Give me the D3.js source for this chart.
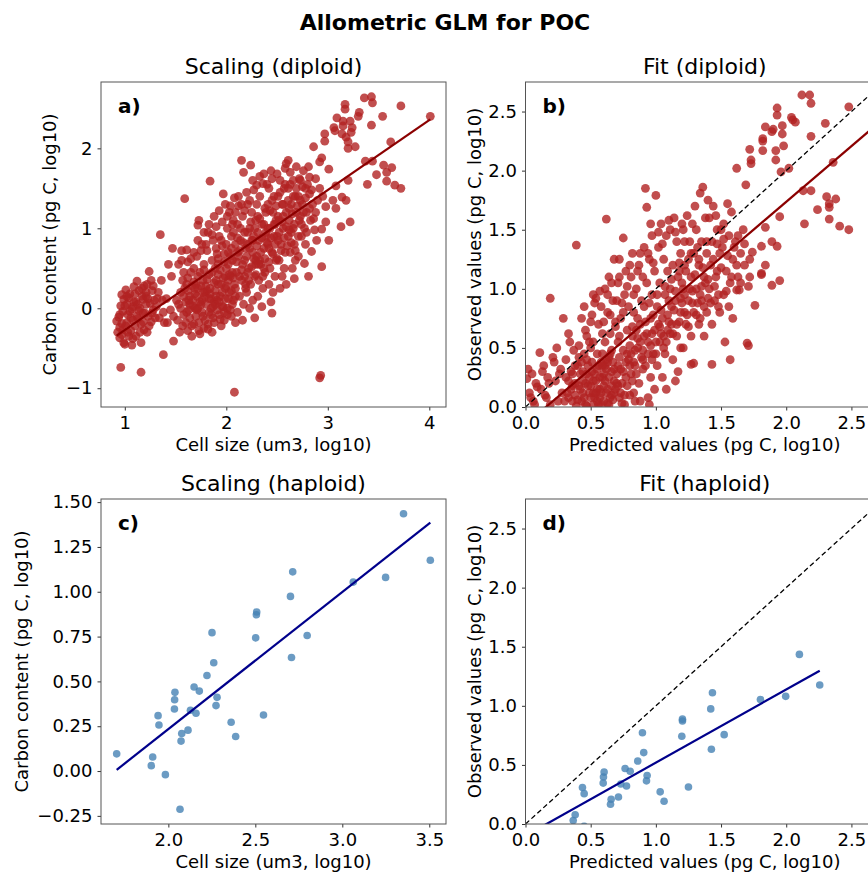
<!DOCTYPE html>
<html>
<head>
<meta charset="utf-8">
<script src="https://cdn.jsdelivr.net/npm/d3@7"></script>
<style>
  body { margin: 0; background: #fff; }
  svg text { font-family: 'DejaVu Sans', sans-serif; fill: #000; }
</style>
</head>
<body>
<div id="chart"></div>
<script>
// ---- data ----

// a) diploid: [cell size (log10 um3), carbon content (log10 pg C)]
const diploidScaling = [
  [0.93,-0.30],[0.95,-0.24],[0.97,-0.19],[0.94,-0.11],[0.98,-0.04],[0.96,0.03],[0.99,0.11],[0.95,-0.37],[0.99,-0.43],[0.92,-0.16],[0.97,0.17],[0.96,-0.74],
  [1.01,0.23],[1.04,0.13],[1.02,0.05],[1.07,-0.01],[1.03,-0.08],[1.08,-0.15],[1.01,-0.22],[1.06,-0.28],[1.04,-0.35],[1.07,-0.46],[1.09,0.27],[1.05,-0.04],[1.09,0.08],[1.02,-0.18],[1.00,-0.45],
  [1.12,0.34],[1.14,0.22],[1.17,0.15],[1.11,0.08],[1.15,0.00],[1.18,-0.06],[1.13,-0.13],[1.16,-0.20],[1.19,-0.27],[1.16,-0.43],[1.19,0.28],[1.12,-0.10],[1.18,0.11],[1.16,-0.80],
  [1.24,0.46],[1.22,0.30],[1.27,0.22],[1.21,0.15],[1.25,0.06],[1.28,-0.02],[1.23,-0.10],[1.26,-0.17],[1.22,-0.30],[1.29,0.10],[1.27,-0.06],[1.21,0.20],
  [1.35,0.92],[1.33,0.20],[1.37,0.10],[1.31,0.02],[1.38,-0.05],[1.34,-0.12],[1.39,-0.18],[1.36,0.35],[1.38,-0.58],
  [1.43,0.55],[1.46,0.40],[1.41,0.12],[1.45,-0.02],[1.48,-0.10],[1.42,-0.18],[1.48,-0.41],[1.47,0.75],
  [1.59,1.37],[1.56,0.72],[1.53,0.55],[1.58,0.45],[1.51,0.10],[1.55,0.00],[1.58,-0.08],[1.52,-0.15],[1.57,-0.22],[1.54,-0.30],[1.59,0.25],[1.53,0.05],[1.56,0.60],
  [1.61,0.73],[1.65,0.62],[1.68,0.50],[1.62,0.38],[1.66,0.28],[1.69,0.18],[1.63,0.10],[1.67,0.03],[1.61,-0.05],[1.64,-0.12],[1.68,-0.20],[1.62,-0.28],[1.66,-0.35],[1.69,0.00],[1.64,0.15],[1.60,0.08],
  [1.73,1.10],[1.72,1.04],[1.76,0.80],[1.71,0.65],[1.78,0.55],[1.74,0.45],[1.77,0.35],[1.72,0.25],[1.79,0.15],[1.75,0.05],[1.71,-0.02],[1.77,-0.10],[1.73,-0.18],[1.78,-0.25],[1.74,-0.32],[1.70,0.30],[1.79,0.20],[1.76,0.10],[1.72,0.00],
  [1.84,1.59],[1.82,0.95],[1.87,0.85],[1.81,0.72],[1.86,0.60],[1.89,0.50],[1.83,0.42],[1.88,0.32],[1.81,0.22],[1.85,0.12],[1.89,0.05],[1.83,-0.05],[1.87,-0.12],[1.82,-0.20],[1.86,-0.30],[1.80,0.28],[1.84,0.18],[1.88,0.08],[1.85,0.00],
  [1.97,1.43],[1.93,0.90],[1.96,0.78],[1.91,0.68],[1.98,0.58],[1.94,0.48],[1.99,0.40],[1.92,0.30],[1.96,0.20],[1.91,0.10],[1.97,0.02],[1.93,-0.08],[1.98,-0.15],[1.95,-0.22],[1.90,0.35],[1.99,0.25],[1.94,0.15],[1.92,0.55],
  [2.08,1.38],[2.03,1.20],[2.07,1.10],[2.01,1.00],[2.05,0.90],[2.09,0.80],[2.02,0.70],[2.06,0.60],[2.00,0.50],[2.04,0.40],[2.08,0.30],[2.03,0.20],[2.07,0.10],[2.01,0.00],[2.05,-0.10],[2.09,-0.18],[2.06,0.45],[2.02,0.35],[2.09,0.25],[2.04,0.65],[2.08,-1.05],
  [2.15,1.85],[2.17,1.70],[2.12,1.28],[2.16,1.15],[2.11,1.05],[2.18,0.95],[2.14,0.85],[2.19,0.75],[2.12,0.65],[2.16,0.55],[2.10,0.45],[2.15,0.35],[2.19,0.25],[2.13,0.15],[2.17,0.05],[2.11,-0.05],[2.16,-0.15],[2.18,0.60],[2.13,0.40],[2.19,0.30],[2.11,0.70],
  [2.24,1.79],[2.27,1.48],[2.21,1.30],[2.25,1.20],[2.29,1.10],[2.23,1.00],[2.27,0.90],[2.21,0.80],[2.26,0.70],[2.29,0.60],[2.22,0.50],[2.28,0.40],[2.24,0.30],[2.20,0.20],[2.26,0.10],[2.23,0.00],[2.28,-0.12],[2.25,0.85],[2.29,0.55],[2.21,0.45],
  [2.37,1.68],[2.36,1.56],[2.30,1.54],[2.33,1.40],[2.38,1.25],[2.31,1.15],[2.35,1.05],[2.39,0.95],[2.32,0.85],[2.37,0.75],[2.30,0.65],[2.34,0.55],[2.38,0.45],[2.32,0.35],[2.36,0.25],[2.31,0.15],[2.35,0.02],[2.39,0.90],[2.33,0.60],[2.37,0.50],
  [2.45,1.62],[2.42,1.50],[2.47,1.40],[2.41,1.30],[2.46,1.20],[2.49,1.10],[2.43,1.00],[2.47,0.90],[2.41,0.80],[2.45,0.70],[2.49,0.60],[2.43,0.50],[2.48,0.40],[2.42,0.30],[2.46,0.20],[2.44,0.08],[2.45,-0.06],[2.48,1.05],[2.42,0.75],
  [2.61,1.85],[2.59,1.81],[2.58,1.75],[2.53,1.60],[2.57,1.50],[2.51,1.40],[2.55,1.30],[2.59,1.20],[2.52,1.10],[2.56,1.00],[2.50,0.90],[2.54,0.80],[2.58,0.70],[2.52,0.60],[2.57,0.50],[2.55,0.40],[2.59,0.30],[2.53,0.25],[2.56,1.15],[2.51,0.85],
  [2.69,1.77],[2.63,1.70],[2.66,1.60],[2.61,1.50],[2.68,1.40],[2.64,1.30],[2.69,1.20],[2.62,1.10],[2.66,1.00],[2.61,0.90],[2.67,0.80],[2.63,0.70],[2.68,0.60],[2.65,0.50],[2.67,0.37],[2.62,1.25],[2.64,0.95],
  [2.76,1.72],[2.73,1.60],[2.78,1.50],[2.71,1.40],[2.75,1.30],[2.79,1.20],[2.72,1.10],[2.77,1.00],[2.74,0.90],[2.78,0.80],[2.71,0.65],[2.77,0.56],[2.73,1.15],
  [2.81,1.77],[2.82,1.64],[2.82,1.43],[2.85,1.30],[2.88,1.20],[2.83,1.10],[2.87,0.98],[2.89,0.85],[2.84,0.71],[2.81,0.40],[2.86,2.02],
  [2.97,2.18],[2.97,2.09],[2.94,1.88],[2.92,1.83],[2.92,1.50],[2.95,1.40],[2.98,1.27],[2.98,1.08],[2.94,0.99],[2.94,0.52],[2.92,-0.87],[2.93,-0.84],
  [3.09,2.38],[3.06,2.26],[3.07,2.22],[3.01,1.74],[3.08,1.53],[3.05,1.35],[3.08,1.25],[3.01,0.85],
  [3.17,2.55],[3.17,2.49],[3.15,2.34],[3.15,2.28],[3.14,2.18],[3.18,2.14],[3.20,2.00],[3.20,1.60],[3.14,1.39],[3.18,1.35],[3.13,1.02],
  [3.31,2.45],[3.24,2.26],[3.23,2.20],[3.20,2.08],[3.27,2.02],[3.22,1.08],[3.22,2.34],
  [3.36,2.63],[3.37,1.84],[3.39,1.55],[3.30,2.40],
  [3.43,2.645],[3.44,2.57],[3.43,2.29],[3.44,1.84],[3.48,1.67],
  [3.54,2.40],[3.55,1.79],[3.58,1.70],[3.58,1.59],
  [3.62,2.08],[3.63,1.76],[3.66,1.54],
  [3.72,2.53],[3.72,1.50],
  [4.01,2.40],
  // dense core, left cluster
  [0.95,-0.08],[0.98,-0.27],[1.00,0.03],[1.03,-0.30],[1.05,0.18],[1.06,-0.12],[1.08,0.02],[1.10,-0.22],[1.11,-0.35],[1.13,0.05],[1.14,-0.03],[1.15,-0.30],[1.17,0.25],
  [1.18,-0.17],[1.20,-0.06],[1.21,0.05],[1.23,0.12],[1.24,-0.22],[1.26,0.35],[1.28,0.28],[1.30,-0.12],[1.32,0.12],[1.02,0.15],[1.10,0.18],[0.97,-0.33],[1.08,-0.38],
  // dense core, lower-middle blob
  [1.55,0.20],[1.57,0.35],[1.60,-0.18],[1.62,0.22],[1.63,-0.02],[1.65,0.45],[1.66,-0.22],[1.67,0.10],[1.68,0.33],[1.70,-0.10],[1.71,0.15],[1.72,0.40],[1.73,-0.28],
  [1.74,0.08],[1.75,0.28],[1.76,-0.05],[1.77,0.20],[1.78,0.48],[1.79,-0.15],[1.80,0.05],[1.81,0.36],[1.82,-0.26],[1.83,0.12],[1.84,0.25],[1.85,-0.08],[1.86,0.45],
  [1.87,0.02],[1.88,-0.18],[1.89,0.22],[1.90,0.15],[1.91,-0.02],[1.92,0.42],[1.93,0.08],[1.94,-0.14],[1.95,0.30],[1.96,0.02],[1.97,0.38],[1.98,-0.05],[1.99,0.12],
  [2.00,0.28],[2.01,-0.08],[2.02,0.12],[2.03,0.42],[2.04,-0.02],[2.05,0.22],[2.06,0.05],[2.07,0.38],[2.09,0.15],[1.58,0.15],[1.61,0.30],[1.64,0.05],[1.69,0.25],
  // dense core, main band
  [1.90,0.75],[1.92,0.62],[1.95,0.85],[1.98,0.68],[2.00,0.80],[2.02,0.55],[2.05,0.75],[2.07,0.95],[2.10,0.58],[2.11,0.88],[2.13,0.72],[2.14,1.00],[2.15,0.48],
  [2.17,0.82],[2.18,0.40],[2.20,0.65],[2.21,0.95],[2.22,0.35],[2.23,0.75],[2.24,1.08],[2.25,0.52],[2.26,0.85],[2.27,0.62],[2.28,1.00],[2.29,0.42],[2.30,0.78],
  [2.31,0.95],[2.32,0.55],[2.33,1.12],[2.34,0.70],[2.35,0.88],[2.36,0.40],[2.37,1.05],[2.38,0.62],[2.39,1.20],[2.40,0.82],[2.41,1.00],[2.42,0.58],[2.43,1.22],
  [2.44,0.88],[2.45,1.35],[2.46,0.68],[2.47,1.05],[2.48,0.80],[2.49,1.28],[2.50,0.62],[2.51,1.15],[2.52,0.95],[2.53,1.45],[2.54,0.72],[2.55,1.08],[2.56,1.30],
  [2.57,0.88],[2.58,1.55],[2.59,1.02],[2.60,0.78],[2.61,1.35],[2.62,0.98],[2.63,1.55],[2.64,0.82],[2.65,1.18],[2.66,1.40],[2.67,1.05],[2.68,0.72],[2.69,1.50],
  [2.70,1.28],[2.71,0.90],[2.72,1.62],[2.73,1.35],[2.74,1.05],[2.75,1.52],[2.76,1.20],[2.78,1.38],[2.79,0.95],[2.80,1.55],[2.82,1.25],[2.84,1.48],[2.86,1.12],
  [2.88,1.62],[2.90,1.35],
  // upper side of the band
  [1.62,0.58],[1.68,0.70],[1.72,0.85],[1.75,0.72],[1.78,0.95],[1.80,0.80],[1.83,1.05],[1.86,0.92],[1.88,1.15],[1.90,1.02],[1.93,1.22],[1.96,1.08],[1.99,1.30],
  [2.01,1.15],[2.04,1.28],[2.06,1.05],[2.09,1.20],[2.12,1.40],[2.15,1.30],[2.18,1.22],[2.20,1.45],[2.23,1.35],[2.26,1.60],[2.30,1.30],[2.33,1.65],[2.40,1.55],
  [2.44,1.72],[2.50,1.68]
];

// b) diploid: [predicted, observed] (both log10 pg C)
const diploidFit = [
  [0.02,0.32],[0.05,0.28],[0.08,0.20],[0.03,0.12],[0.06,0.05],[0.09,0.17],[0.04,0.08],[0.07,0.02],[0.01,0.24],
  [0.19,0.92],[0.11,0.46],[0.14,0.35],[0.17,0.25],[0.12,0.15],[0.16,0.08],[0.19,0.02],[0.13,0.30],[0.18,0.20],[0.15,0.10],
  [0.29,0.75],[0.24,0.50],[0.21,0.42],[0.27,0.32],[0.23,0.22],[0.28,0.12],[0.25,0.05],[0.22,0.38],[0.26,0.28],
  [0.39,1.37],[0.34,0.55],[0.37,0.48],[0.31,0.40],[0.35,0.30],[0.38,0.20],[0.32,0.12],[0.36,0.05],[0.39,0.01],[0.33,0.62],[0.38,0.35],[0.31,0.25],[0.35,0.15],[0.33,0.08],[0.36,0.18],[0.40,0.06],
  [0.43,0.75],[0.47,0.60],[0.41,0.52],[0.45,0.45],[0.48,0.35],[0.42,0.28],[0.46,0.20],[0.49,0.12],[0.43,0.05],[0.47,0.01],[0.41,0.42],[0.44,0.30],[0.48,0.18],[0.45,0.08],[0.46,0.65],[0.49,0.55],[0.42,0.15],[0.44,0.22],[0.47,0.28],
  [0.57,0.98],[0.53,0.88],[0.51,0.78],[0.56,0.70],[0.59,0.62],[0.52,0.55],[0.55,0.45],[0.58,0.38],[0.51,0.30],[0.54,0.22],[0.57,0.15],[0.53,0.08],[0.58,0.02],[0.50,0.50],[0.56,0.35],[0.59,0.25],[0.52,0.12],[0.55,0.05],[0.54,0.92],[0.50,0.18],[0.53,0.28],[0.57,0.08],[0.52,0.02],[0.55,0.15],[0.59,0.45],
  [0.62,1.59],[0.68,1.25],[0.64,1.10],[0.61,1.00],[0.67,0.90],[0.63,0.80],[0.69,0.72],[0.65,0.62],[0.61,0.55],[0.66,0.48],[0.62,0.40],[0.68,0.32],[0.64,0.25],[0.60,0.18],[0.66,0.10],[0.63,0.03],[0.69,0.68],[0.65,0.45],[0.61,0.35],[0.68,0.22],[0.67,0.06],[0.60,0.28],[0.62,0.12],[0.64,0.02],[0.66,0.18],[0.63,0.38],[0.69,0.15],
  [0.75,1.43],[0.72,1.25],[0.77,1.15],[0.71,1.05],[0.76,0.95],[0.79,0.85],[0.73,0.75],[0.78,0.65],[0.71,0.55],[0.75,0.48],[0.79,0.40],[0.73,0.32],[0.77,0.25],[0.71,0.18],[0.76,0.10],[0.74,0.03],[0.72,0.60],[0.78,0.45],[0.74,0.88],[0.70,0.28],[0.72,0.08],[0.74,0.20],
  [0.82,1.30],[0.87,1.20],[0.81,1.10],[0.85,1.00],[0.89,0.90],[0.83,0.80],[0.88,0.70],[0.82,0.60],[0.86,0.50],[0.89,0.42],[0.84,0.35],[0.81,0.28],[0.87,0.20],[0.83,0.12],[0.88,0.05],[0.85,0.65],[0.81,0.45],[0.80,0.52],[0.83,0.38],[0.86,0.58],[0.85,0.28],
  [0.92,1.85],[0.93,1.69],[0.97,1.45],[0.91,1.35],[0.95,1.25],[0.99,1.15],[0.93,1.05],[0.97,0.95],[0.91,0.85],[0.96,0.75],[0.99,0.65],[0.94,0.55],[0.98,0.45],[0.92,0.35],[0.96,0.25],[0.99,0.15],[0.94,0.08],[0.91,0.60],[0.97,0.40],[0.95,0.02],[0.90,0.48],[0.93,0.62],[0.96,0.52],[0.90,0.32],
  [1.00,1.79],[1.04,1.55],[1.08,1.45],[1.02,1.35],[1.06,1.25],[1.09,1.15],[1.03,1.05],[1.07,0.95],[1.01,0.85],[1.05,0.75],[1.09,0.65],[1.03,0.55],[1.07,0.45],[1.01,0.35],[1.05,0.25],[1.08,0.15],[1.02,0.70],[1.06,0.50],[1.00,0.45],[1.04,0.62],[1.08,0.55],
  [1.14,1.60],[1.11,1.50],[1.16,1.40],[1.19,1.30],[1.13,1.20],[1.17,1.10],[1.11,1.00],[1.15,0.90],[1.19,0.80],[1.12,0.70],[1.16,0.60],[1.19,0.50],[1.13,0.40],[1.17,0.30],[1.15,0.22],[1.18,1.15],[1.12,0.85],[1.10,0.72],[1.13,0.62],[1.18,0.72],
  [1.24,1.62],[1.21,1.50],[1.26,1.40],[1.29,1.30],[1.22,1.20],[1.27,1.10],[1.21,1.00],[1.25,0.90],[1.29,0.80],[1.23,0.70],[1.27,0.60],[1.21,0.50],[1.27,0.36],[1.29,0.37],[1.25,1.25],[1.22,0.95],[1.20,0.88],[1.24,0.78],[1.28,0.98],
  [1.36,1.86],[1.34,1.81],[1.38,1.60],[1.31,1.50],[1.35,1.40],[1.39,1.30],[1.33,1.20],[1.37,1.10],[1.31,1.00],[1.35,0.90],[1.39,0.80],[1.33,0.70],[1.37,0.60],[1.32,1.35],[1.38,1.05],[1.34,0.75],[1.32,0.88],[1.35,1.02],
  [1.44,1.70],[1.41,1.60],[1.47,1.50],[1.43,1.40],[1.49,1.30],[1.42,1.20],[1.46,1.10],[1.41,1.00],[1.45,0.90],[1.49,0.80],[1.43,0.70],[1.43,0.36],[1.47,1.15],[1.48,0.95],[1.40,0.92],
  [1.55,1.72],[1.58,1.65],[1.52,1.55],[1.56,1.45],[1.51,1.35],[1.59,1.25],[1.54,1.15],[1.57,1.05],[1.52,0.95],[1.56,0.85],[1.59,0.75],[1.53,0.55],[1.57,0.40],
  [1.62,2.02],[1.69,1.88],[1.67,1.50],[1.61,1.40],[1.65,1.30],[1.68,1.20],[1.63,1.10],[1.62,0.99],[1.64,0.99],[1.63,1.45],
  [1.72,2.18],[1.73,2.09],[1.73,2.06],[1.74,1.31],[1.72,1.25],[1.72,1.10],[1.71,1.02],[1.76,0.86],[1.70,0.54],[1.71,0.52],
  [1.84,2.37],[1.82,2.27],[1.82,2.25],[1.82,2.17],[1.89,2.33],[1.84,1.52],[1.81,1.36],[1.84,1.20],[1.81,1.13],[1.81,1.12],[1.89,1.40],[1.89,1.03],
  [1.93,2.53],[1.93,2.47],[1.97,2.38],[1.97,2.31],[1.98,2.21],[1.92,2.17],[1.92,2.09],[1.96,1.99],[1.95,1.61],[1.93,1.36],[1.95,1.07],[1.90,2.35],
  [2.04,2.45],[2.07,2.41],[2.05,2.43],[2.02,2.02],
  [2.12,2.64],[2.18,2.64],[2.19,2.57],[2.19,2.29],[2.13,1.83],[2.19,1.83],[2.14,1.55],
  [2.24,1.67],
  [2.30,2.40],[2.36,2.07],[2.31,1.78],[2.33,1.72],[2.33,1.69],[2.33,1.59],[2.38,1.76],
  [2.48,2.54],[2.41,1.53],[2.48,1.50],
  [2.80,2.40],
  // dense core, bottom-left blob
  [0.30,0.05],[0.33,0.22],[0.36,0.28],[0.38,0.10],[0.40,0.35],[0.41,0.18],[0.43,0.38],[0.44,0.12],[0.46,0.02],[0.47,0.40],[0.49,0.25],[0.50,0.08],[0.51,0.38],
  [0.52,0.22],[0.54,0.12],[0.55,0.32],[0.56,0.02],[0.57,0.25],[0.58,0.12],[0.59,0.35],[0.60,0.05],[0.61,0.22],[0.62,0.32],[0.63,0.15],[0.64,0.42],[0.65,0.08],
  [0.66,0.30],[0.67,0.38],[0.68,0.12],[0.70,0.20],[0.71,0.35],[0.72,0.42],[0.73,0.12],[0.75,0.30],[0.76,0.02],[0.77,0.38],[0.78,0.18],[0.80,0.10],[0.82,0.22],
  [0.84,0.05],
  // dense core, main band
  [0.80,0.35],[0.82,0.68],[0.84,0.48],[0.86,0.75],[0.88,0.55],[0.90,0.40],[0.92,0.72],[0.94,0.45],[0.95,0.88],[0.97,0.62],[0.98,0.78],[1.00,0.55],[1.01,0.95],
  [1.03,0.68],[1.04,0.82],[1.06,0.60],[1.07,1.02],[1.09,0.78],[1.10,0.90],[1.11,0.62],[1.12,1.08],[1.14,0.82],[1.15,0.98],[1.16,0.70],[1.18,1.22],[1.19,0.92],
  [1.20,1.05],[1.22,0.80],[1.23,1.15],[1.25,0.68],[1.26,1.00],[1.27,1.30],[1.28,0.88],[1.30,1.12],[1.31,0.78],[1.33,1.25],[1.34,0.95],[1.36,1.18],[1.37,0.85],
  [1.39,1.40],[1.40,1.08],[1.42,0.88],[1.44,1.25],[1.45,1.02],[1.47,1.38],[1.48,0.85],[1.50,1.18],[1.52,1.42],[1.54,0.98],[1.55,1.28],[1.58,1.10],[1.60,1.35],
  [1.62,1.20],[1.65,1.05],[1.68,1.38],
  // upper side of the band
  [0.45,0.85],[0.50,0.72],[0.52,0.95],[0.58,0.85],[0.60,0.72],[0.63,0.95],[0.65,0.78],[0.66,1.05],[0.70,0.90],[0.72,1.10],[0.75,0.80],[0.78,1.02],[0.80,1.20],
  [0.83,0.95],[0.86,1.15],[0.88,1.30],[0.90,1.10],[0.94,1.30],[0.96,1.55],[0.98,1.22],[1.02,1.48],[1.05,1.38],[1.10,1.58],[1.15,1.48],[1.20,1.55],[1.22,1.40],
  [1.28,1.55],[1.30,1.70],[1.40,1.75],[1.46,1.62],[1.50,1.50]
];

// c) / d) haploid
const haploidSize = [1.703,1.910,1.902,1.983,2.067,1.941,1.946,2.038,2.036,2.035,2.077,2.073,2.113,2.127,2.159,2.148,2.178,2.222,2.251,2.261,2.280,2.274,2.361,2.387,2.502,2.508,2.506,2.547,2.702,2.715,2.708,2.798,3.063,3.249,3.352,3.506];
const haploidCarbon = [0.096,0.078,0.030,-0.020,-0.213,0.309,0.257,0.439,0.398,0.346,0.209,0.167,0.228,0.339,0.322,0.469,0.446,0.533,0.772,0.604,0.411,0.365,0.272,0.193,0.743,0.887,0.872,0.313,0.974,1.111,0.633,0.756,1.054,1.080,1.435,1.176];
const haploidPredicted = [-0.05,0.381,0.366,0.45,0.55,0.437,0.450,0.603,0.598,0.596,0.657,0.652,0.713,0.731,0.775,0.764,0.803,0.861,0.897,0.907,0.933,0.928,1.033,1.063,1.199,1.204,1.204,1.250,1.421,1.434,1.426,1.524,1.802,1.996,2.101,2.257];

// fitted lines [intercept, slope]
const diploidScalingFit = [-1.146, 0.875];
const diploidObsFit = [-0.148, 0.942];
const haploidScalingFit = [-1.296, 0.765];
const haploidObsFit = [-0.0997, 0.619];

// axis limits & ticks
const fitLimits = [0, 2.75];
const fitTicks = [0, 0.5, 1.0, 1.5, 2.0, 2.5];

const haploidScaling = haploidSize.map((d, i) => [d, haploidCarbon[i]]);
const haploidFit = haploidPredicted.map((d, i) => [d, haploidCarbon[i]]);

const padded = (ext) => {
  const p = (ext[1] - ext[0]) * 0.05;
  return [ext[0] - p, ext[1] + p];
};

class ScatterPanel {
  constructor(_config, _data) {
    this.config = _config;
    this.data = _data;
    this.initVis();
  }

  initVis() {
    const vis = this;
    const c = vis.config;

    vis.width = c.width;
    vis.height = c.height;

    vis.g = c.svg.append('g')
      .attr('transform', `translate(${c.left},${c.top})`);

    vis.g.append('clipPath')
      .attr('id', `clip-${c.id}`)
      .append('rect')
      .attr('width', vis.width)
      .attr('height', vis.height);

    vis.xScale = d3.scaleLinear().domain(c.xDomain).range([0, vis.width]);
    vis.yScale = d3.scaleLinear().domain(c.yDomain).range([vis.height, 0]);

    vis.xAxis = d3.axisBottom(vis.xScale)
      .tickValues(c.xTicks)
      .tickFormat(d3.format(c.xFormat))
      .tickSize(3.5)
      .tickPadding(6);

    vis.yAxis = d3.axisLeft(vis.yScale)
      .tickValues(c.yTicks)
      .tickFormat(d3.format(c.yFormat))
      .tickSize(3.5)
      .tickPadding(5);

    vis.plot = vis.g.append('g')
      .attr('clip-path', `url(#clip-${c.id})`);

    vis.xAxisG = vis.g.append('g')
      .attr('class', 'axis x-axis')
      .attr('transform', `translate(0,${vis.height})`);

    vis.yAxisG = vis.g.append('g')
      .attr('class', 'axis y-axis');

    vis.renderVis();
  }

  renderVis() {
    const vis = this;
    const c = vis.config;

    vis.plot.selectAll('.dot')
      .data(vis.data)
      .join('circle')
      .attr('class', 'dot')
      .attr('cx', (d) => vis.xScale(d[0]))
      .attr('cy', (d) => vis.yScale(d[1]))
      .attr('r', c.radius)
      .style('fill', c.pointColor)
      .style('fill-opacity', 0.8);

    const line = d3.line()
      .x((d) => vis.xScale(d[0]))
      .y((d) => vis.yScale(d[1]));

    // 1:1 reference line
    if (c.identity) {
      const dom = vis.xScale.domain();
      vis.plot.append('path')
        .datum([[dom[0], dom[0]], [dom[1], dom[1]]])
        .attr('d', line)
        .attr('fill', 'none')
        .attr('stroke', '#000')
        .attr('stroke-width', 1.3)
        .attr('stroke-dasharray', '5,3');
    }

    // regression line over the range of the x values
    const ext = d3.extent(vis.data, (d) => d[0]);
    const [b0, b1] = c.fit;
    vis.plot.append('path')
      .datum(ext.map((x) => [x, b0 + b1 * x]))
      .attr('d', line)
      .attr('fill', 'none')
      .attr('stroke', c.lineColor)
      .attr('stroke-width', 2.2);

    // axes
    vis.xAxisG.call(vis.xAxis)
      .call((g) => g.select('.domain').remove());
    vis.yAxisG.call(vis.yAxis)
      .call((g) => g.select('.domain').remove());

    vis.g.selectAll('.axis line').attr('stroke', '#333').attr('stroke-width', 1);
    vis.g.selectAll('.axis text')
      .attr('font-size', 18)
      .attr('font-family', "'DejaVu Sans', sans-serif")
      .attr('fill', '#000');

    // frame
    vis.g.append('rect')
      .attr('width', vis.width)
      .attr('height', vis.height)
      .attr('fill', 'none')
      .attr('stroke', '#555')
      .attr('stroke-width', 1);

    // title, labels, panel tag
    vis.g.append('text')
      .attr('x', vis.width / 2)
      .attr('y', -8)
      .attr('text-anchor', 'middle')
      .attr('font-size', 22)
      .text(c.title);

    vis.g.append('text')
      .attr('x', vis.width / 2)
      .attr('y', vis.height + 44)
      .attr('text-anchor', 'middle')
      .attr('font-size', 18)
      .text(c.xLabel);

    vis.g.append('text')
      .attr('transform', `translate(${c.yLabelX},${vis.height / 2}) rotate(-90)`)
      .attr('text-anchor', 'middle')
      .attr('font-size', 18)
      .text(c.yLabel);

    vis.g.append('text')
      .attr('x', 17)
      .attr('y', 31)
      .attr('font-size', 20)
      .attr('font-weight', 'bold')
      .text(c.tag);
  }
}

const svg = d3.select('#chart').append('svg')
  .attr('width', 868)
  .attr('height', 873);

svg.append('text')
  .attr('x', 445)
  .attr('y', 30)
  .attr('text-anchor', 'middle')
  .attr('font-size', 22)
  .attr('font-weight', 'bold')
  .text('Allometric GLM for POC');

const leftCol = { left: 101, width: 345 };
const rightCol = { left: 525.5, width: 358.5 };
const topRow = { top: 82, height: 325 };
const bottomRow = { top: 499, height: 325 };

new ScatterPanel({
  svg, id: 'a', ...leftCol, ...topRow,
  xDomain: padded(d3.extent(diploidScaling, (d) => d[0])),
  yDomain: padded(d3.extent(diploidScaling, (d) => d[1])),
  xTicks: [1, 2, 3, 4], yTicks: [-1, 0, 1, 2], xFormat: 'd', yFormat: 'd',
  title: 'Scaling (diploid)', xLabel: 'Cell size (um3, log10)',
  yLabel: 'Carbon content (pg C, log10)', yLabelX: -45, tag: 'a)',
  pointColor: '#b22222', radius: 4.4, lineColor: '#8b0000',
  fit: diploidScalingFit, identity: false,
}, diploidScaling);

new ScatterPanel({
  svg, id: 'b', ...rightCol, ...topRow,
  xDomain: fitLimits, yDomain: fitLimits,
  xTicks: fitTicks, yTicks: fitTicks, xFormat: '.1f', yFormat: '.1f',
  title: 'Fit (diploid)', xLabel: 'Predicted values (pg C, log10)',
  yLabel: 'Observed values (pg C, log10)', yLabelX: -45, tag: 'b)',
  pointColor: '#b22222', radius: 4.4, lineColor: '#8b0000',
  fit: diploidObsFit, identity: true,
}, diploidFit);

new ScatterPanel({
  svg, id: 'c', ...leftCol, ...bottomRow,
  xDomain: padded(d3.extent(haploidScaling, (d) => d[0])),
  yDomain: padded(d3.extent(haploidScaling, (d) => d[1])),
  xTicks: [2.0, 2.5, 3.0, 3.5], yTicks: [-0.25, 0, 0.25, 0.5, 0.75, 1.0, 1.25, 1.5],
  xFormat: '.1f', yFormat: '.2f',
  title: 'Scaling (haploid)', xLabel: 'Cell size (um3, log10)',
  yLabel: 'Carbon content (pg C, log10)', yLabelX: -73, tag: 'c)',
  pointColor: '#4682b4', radius: 3.8, lineColor: '#00008b',
  fit: haploidScalingFit, identity: false,
}, haploidScaling);

new ScatterPanel({
  svg, id: 'd', ...rightCol, ...bottomRow,
  xDomain: fitLimits, yDomain: fitLimits,
  xTicks: fitTicks, yTicks: fitTicks, xFormat: '.1f', yFormat: '.1f',
  title: 'Fit (haploid)', xLabel: 'Predicted values (pg C, log10)',
  yLabel: 'Observed values (pg C, log10)', yLabelX: -45, tag: 'd)',
  pointColor: '#4682b4', radius: 3.8, lineColor: '#00008b',
  fit: haploidObsFit, identity: true,
}, haploidFit);
</script>
</body>
</html>
